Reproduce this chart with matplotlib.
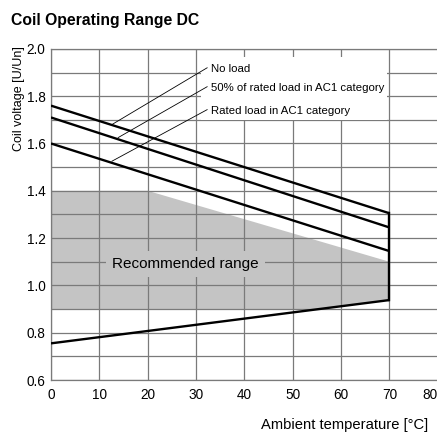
import matplotlib
matplotlib.use("Agg")
import matplotlib.pyplot as plt
from matplotlib.patches import Rectangle

plt.rcParams['font.family'] = ['Liberation Sans', 'DejaVu Sans']

# operating curves (temperature in °C, coil voltage U/Un)
temp_ends = [0, 70]
no_load = [1.76, 1.305]
half_load = [1.71, 1.245]
rated_load = [1.60, 1.145]
min_voltage = [0.755, 0.938]

# recommended range outline
shade_x = [0, 20, 70, 70, 55.5, 0]
shade_y = [1.4, 1.4, 1.10, 0.938, 0.9, 0.9]

labels = ["No load", "50% of rated load in AC1 category", "Rated load in AC1 category"]
label_y = [1.915, 1.835, 1.738]
leader_end_x = [12.6, 13.9, 12.6]
leader_end_y = [1.68, 1.625, 1.525]

x_ticks = [0, 10, 20, 30, 40, 50, 60, 70, 80]
y_ticks = [0.6, 0.8, 1.0, 1.2, 1.4, 1.6, 1.8, 2.0]

GRID = '#7a7a7a'
SHADE = '#c4c4c4'

fig = plt.figure(figsize=(4.37, 4.34), dpi=100)
ax = fig.add_axes([0.1167, 0.1244, 0.885, 0.763])
renderer = fig.canvas.get_renderer()


def fit_width(txt, width_px):
    # shrink/grow a text so that it spans width_px pixels
    w = txt.get_window_extent(renderer).width
    txt.set_fontsize(txt.get_fontsize() * width_px / w)


ax.fill(shade_x, shade_y, color=SHADE, lw=0, zorder=0.5)

for x in x_ticks:
    ax.axvline(x, color=GRID, lw=0.9, zorder=1)
for i in range(15):
    ax.axhline(0.6 + 0.1 * i, color=GRID, lw=0.9, zorder=1)

# white area behind the curve labels
ax.add_patch(Rectangle((31.0, 1.70), 38.6, 0.265, facecolor='white', edgecolor='none', zorder=2))

for ys in [no_load, half_load, rated_load, min_voltage]:
    ax.plot(temp_ends, ys, color='black', lw=1.7, solid_capstyle='butt', zorder=3)
ax.plot([70, 70], [no_load[1], min_voltage[1]], color='black', lw=1.7, zorder=3)

ann = []
for txt, ty, ex, ey in zip(labels, label_y, leader_end_x, leader_end_y):
    ax.plot([ex, 32.3], [ey, ty + 0.005], color='black', lw=0.6, zorder=3)
    ann.append(ax.text(33.0, ty, txt, fontsize=10, va='center', ha='left', zorder=4))
fit_width(ann[1], 174)
for t in ann:
    t.set_fontsize(ann[1].get_fontsize())

rec = ax.text(27.8, 1.09, "Recommended range", fontsize=14, ha='center', va='center', zorder=4,
              bbox=dict(boxstyle='square,pad=0.4', facecolor=SHADE, edgecolor='none'))
fit_width(rec, 148)

ax.set_xlim(0, 80)
ax.set_ylim(0.6, 2.0)
ax.set_xticks(x_ticks)
ax.set_yticks(y_ticks)
ax.set_yticklabels([f"{v:.1f}" for v in y_ticks])
ax.tick_params(length=0, labelsize=9.8, pad=4)
ax.tick_params(axis='x', pad=6)
ax.get_xticklabels()[-1].set_horizontalalignment('right')
for s in ax.spines.values():
    s.set_color(GRID)
    s.set_linewidth(0.9)

fig.text(0.043, 0.774, "Coil voltage [U/Un]", fontsize=9, ha='center', va='center', rotation=90)

xlab = fig.text(0.979, 0.021, "Ambient temperature [°C]", fontsize=13, ha='right', va='center')
fit_width(xlab, 166)
title = fig.text(0.025, 0.953, "Coil Operating Range DC", fontsize=15, fontweight='bold',
                 ha='left', va='center')
fit_width(title, 189)

fig.savefig("out.png", dpi=100)
